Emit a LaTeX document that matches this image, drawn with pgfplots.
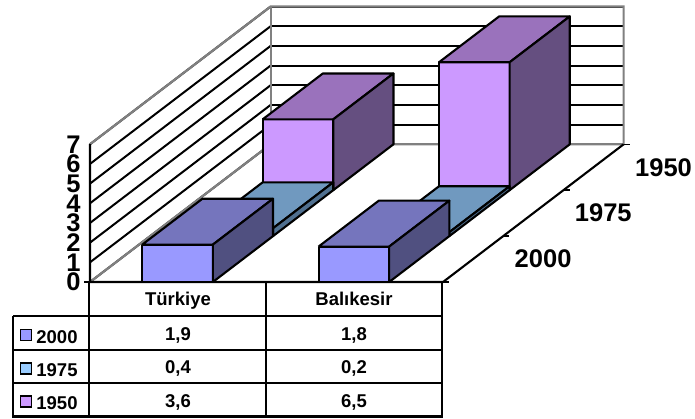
\documentclass[border=0pt]{standalone}
\usepackage{fontspec}
\setmainfont{Liberation Sans}
\usepackage{pgfplots}
\pgfplotsset{compat=1.18}
\definecolor{aF}{HTML}{9999FF}\definecolor{aT}{HTML}{7575BD}\definecolor{aS}{HTML}{505080}
\definecolor{bF}{HTML}{99CCFF}\definecolor{bT}{HTML}{7099BF}\definecolor{bS}{HTML}{507090}
\definecolor{cF}{HTML}{CC99FF}\definecolor{cT}{HTML}{9A72BC}\definecolor{cS}{HTML}{654F80}
\definecolor{wallgray}{HTML}{808080}
% bar: centre x, depth start, value, colour prefix
\newcommand{\barbox}[4]{%
  \pgfmathsetmacro{\xa}{#1-0.2}\pgfmathsetmacro{\xb}{#1+0.2}\pgfmathsetmacro{\yb}{#2+1}%
  \edef\temp{\noexpand\addplot3[fill=#4F,draw=black,line width=2.1pt,line join=round,mark=none,forget plot] coordinates {(\xa,#2,0) (\xb,#2,0) (\xb,#2,#3) (\xa,#2,#3) (\xa,#2,0)};
  \noexpand\addplot3[fill=#4T,draw=black,line width=2.1pt,line join=round,mark=none,forget plot] coordinates {(\xa,#2,#3) (\xb,#2,#3) (\xb,\yb,#3) (\xa,\yb,#3) (\xa,#2,#3)};
  \noexpand\addplot3[fill=#4S,draw=black,line width=2.1pt,line join=round,mark=none,forget plot] coordinates {(\xb,#2,0) (\xb,\yb,0) (\xb,\yb,#3) (\xb,#2,#3) (\xb,#2,0)};}\temp}
\begin{document}
\begin{tikzpicture}[x=1pt,y=1pt]
\path[use as bounding box] (0,0) rectangle (695,-418);
\begin{axis}[
  at={(90pt,-282pt)},anchor=origin,
  x={(176.5pt,0pt)},y={(60.2pt,45.9pt)},z={(0pt,19.68pt)},
  xmin=0,xmax=2,ymin=0,ymax=3,zmin=0,zmax=7,
  clip=false,
  axis line style={draw=none},
  xtick=\empty,
  ytick={0.5,1.5,2.5},yticklabels={2000,1975,1950},
  ztick={0,1,2,3,4,5,6,7},zticklabels={0,1,2,3,4,5,6,7},
  ytick pos=left,ztick pos=left,
  major tick length=0pt,
  tick style={draw=none},
  zmajorgrids=true,xmajorgrids=false,ymajorgrids=false,
  grid style={black,line width=2pt},
  tick label style={font=\bfseries\fontsize{25.5}{25.5}\selectfont},
  z tick label style={anchor=east,xshift=-6pt},
  y tick label style={anchor=center,xshift=70pt},
]
% grey walls
\addplot3[wallgray,line width=2.2pt,mark=none,forget plot] coordinates {(0,0,7) (0,3,7) (2,3,7) (2,3,0) (0,3,0) (0,0,0)};
\addplot3[wallgray,line width=2.2pt,mark=none,forget plot] coordinates {(0,3,0) (0,3,7)};
% black floor edges and axis
\addplot3[black,line width=2.1pt,mark=none,forget plot] coordinates {(0,0,7) (0,0,0) (2,0,0) (2,3,0)};
% tick marks on the axes
\addplot3[black,line width=1.6pt,mark=none,forget plot] coordinates {(2,1,0) (2.035,1,0)};
\addplot3[black,line width=1.6pt,mark=none,forget plot] coordinates {(2,2,0) (2.035,2,0)};
\addplot3[black,line width=1.6pt,mark=none,forget plot] coordinates {(2,3,0) (2.035,3,0)};
\addplot3[black,line width=1.6pt,mark=none,forget plot] coordinates {(2,0,0) (2.035,0,0)};
\addplot3[black,line width=1.6pt,mark=none,forget plot] coordinates {(-0.034,0,0) (0,0,0)};
% bars, back to front: 1950, 1975, 2000
\barbox{0.496}{2}{3.6}{c}
\barbox{1.495}{2}{6.5}{c}
\barbox{0.496}{1}{0.4}{b}
\barbox{1.495}{1}{0.2}{b}
\barbox{0.496}{0}{1.9}{a}
\barbox{1.495}{0}{1.8}{a}
\end{axis}
% data table
\begin{scope}[line width=2.1pt,black]
\draw (89,-282) -- (442,-282);
\draw (13,-316) -- (442,-316);
\draw (13,-350) -- (442,-350);
\draw (13,-383) -- (442,-383);
\draw (12,-416.5) -- (443,-416.5);
\draw (13,-316) -- (13,-416.5);
\draw (89,-282) -- (89,-416.5);
\draw (266,-282) -- (266,-416.5);
\draw (442,-282) -- (442,-416.5);
\end{scope}
\tikzset{tt/.style={font=\bfseries\fontsize{18.5}{19}\selectfont,inner sep=0pt,anchor=base}}
\node[tt] at (178,-305) {Türkiye};
\node[tt] at (354,-305) {Balıkesir};
\node[tt] at (178,-340) {1,9};
\node[tt] at (354,-340) {1,8};
\node[tt] at (178,-373) {0,4};
\node[tt] at (354,-373) {0,2};
\node[tt] at (178,-407) {3,6};
\node[tt] at (354,-407) {6,5};
\node[tt] at (57,-343) {2000};
\node[tt] at (57,-376) {1975};
\node[tt] at (57,-409) {1950};
\draw[line width=1.6pt,fill=aF] (20.5,-329.5) rectangle (31.5,-340.5);
\draw[line width=1.6pt,fill=bF] (20.5,-363) rectangle (31.5,-374);
\draw[line width=1.6pt,fill=cF] (20.5,-396) rectangle (31.5,-407);
\end{tikzpicture}
\end{document}
